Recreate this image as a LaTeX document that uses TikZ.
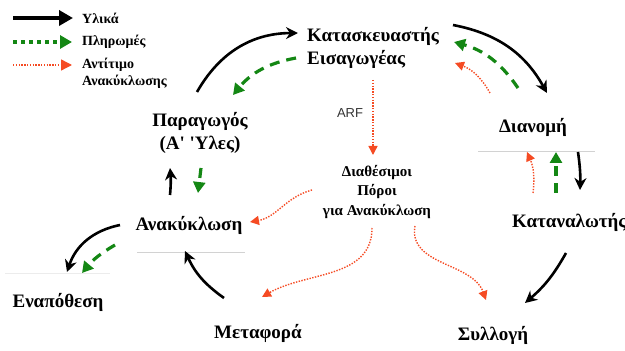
\documentclass[tikz,border=0pt]{standalone}
\usepackage{fontspec}
\setmainfont{Liberation Serif}[Ligatures=TeXOff]
\newfontfamily\arffont{Liberation Sans}
\usetikzlibrary{arrows.meta}
\definecolor{paygreen}{RGB}{20,135,20}
\definecolor{retred}{RGB}{245,75,35}

\begin{document}
\begin{tikzpicture}[x=1pt,y=1pt,
  stage/.style={font=\fontsize{19}{23}\selectfont\bfseries,inner sep=2pt},
  pool/.style={font=\fontsize{15}{19.5}\selectfont\bfseries,align=center,inner sep=2pt},
  legtext/.style={font=\fontsize{14}{16.5}\selectfont\bfseries,align=left,anchor=west,inner sep=2pt},
  mat/.style={line width=2.6pt,-{Stealth[length=12pt,width=12pt]}},
  pay/.style={paygreen,line width=3.2pt,dash pattern=on 10pt off 7pt,
    -{Triangle[length=11pt,width=12pt]}},
  ret/.style={retred,line width=1.4pt,dash pattern=on 1.4pt off 1.4pt,
    -{Triangle[length=9pt,width=9pt]}},
  rule/.style={gray!35,line width=0.8pt}]
\useasboundingbox (0,0) rectangle (625,351);

% legend
\coordinate (kmat) at (13,333);
\coordinate (kpay) at (13,309);
\coordinate (kret) at (13,286);
\node[legtext] (lmat) at (80,333) {Υλικά};
\node[legtext] (lpay) at (80,309) {Πληρωμές};
\node[legtext] (lret) at (80,277.5) {Αντίτιμο\\Ανακύκλωσης};
\draw[line width=4.5pt,-{Triangle[length=14pt,width=15pt]},shorten >=7pt] (kmat) -- (lmat.west);
\draw[paygreen,line width=4pt,dash pattern=on 4pt off 4pt,
  -{Triangle[length=12pt,width=13pt]},shorten >=8pt] (kpay) -- (lpay.west);
\draw[retred,line width=1.4pt,dash pattern=on 1.4pt off 1.4pt,
  -{Triangle[length=11pt,width=11pt]},shorten >=8pt] (kret) -- (lret.west |- kret);

% stages
\node[stage,align=left,anchor=west] (manu) at (305,303) {Κατασκευαστής\\Εισαγωγέας};
\node[stage,align=center] (prod) at (200,218) {Παραγωγός\\(Α' 'Υλες)};
\node[stage] (dist) at (533,224) {Διανομή};
\node[stage,anchor=west] (cons) at (510,129) {Καταναλωτής};
\node[stage] (recy) at (189,126) {Ανακύκλωση};
\node[stage] (disp) at (58,49) {Εναπόθεση};
\node[stage] (trans) at (258,18) {Μεταφορά};
\node[stage] (coll) at (493,16) {Συλλογή};
\node[pool] (res) at (377,159) {Διαθέσιμοι\\Πόροι\\για Ανακύκλωση};
\node[font=\arffont\fontsize{13}{15}\selectfont,text=black!80] (arf) at (350,238) {ARF};

% faint rules
\draw[rule] (478,200) -- (595,200);
\draw[rule] (137,99) -- (245,99);
\draw[gray!15,line width=0.6pt] (5,78) -- (110,78);

% material flow
\draw[mat] ([shift={(-3,41)}]prod.center) to[bend left=30] ([shift={(-7,15)}]manu.west);
\draw[mat] ([shift={(148,23)}]manu.west) to[bend left=25] ([shift={(14,34)}]dist.center);
\draw[mat] ([shift={(45,-25)}]dist.center) to[bend left=5] ([shift={(70,32)}]cons.west);
\draw[mat] ([shift={(56,-31)}]cons.west) to[bend left=10] ([shift={(32,32)}]coll.center);
\draw[mat] ([shift={(-34,35)}]trans.center) to[bend left=15] ([shift={(-4,-26)}]recy.center);
\draw[mat] ([shift={(-69,0)}]recy.center) to[bend right=30] ([shift={(9,30)}]disp.center);
\draw[mat] ([shift={(-19,30)}]recy.center) to[bend right=5] ([shift={(-30,-35)}]prod.center);

% payments
\draw[pay] ([shift={(-9,-10)}]manu.west) to[bend right=20] ([shift={(33,38)}]prod.center);
\draw[pay] ([shift={(-15,39)}]dist.center) to[bend right=20] ([shift={(149,6)}]manu.west);
\draw[pay] ([shift={(46,29)}]cons.west) -- ([shift={(23,-25)}]dist.center);
\draw[pay] ([shift={(-74,-20)}]recy.center) to[bend right=10] ([shift={(24,29)}]disp.center);
\draw[pay] ([shift={(1,-35)}]prod.center) -- ([shift={(9,32)}]recy.center);

% recycling fee
\draw[ret] ([shift={(-43,34)}]dist.center) to[bend right=20] ([shift={(150,-15)}]manu.west);
\draw[ret] ([shift={(68,-32)}]manu.west) -- ([shift={(-4,37)}]res.center);
\draw[ret] ([shift={(23,29)}]cons.west) to[bend right=15] ([shift={(-6,-25)}]dist.center);
\draw[ret] ([shift={(38,-34)}]res.center) to[out=-100,in=110] ([shift={(-7,35)}]coll.center);
\draw[ret] ([shift={(-5,-36)}]res.center) to[out=-90,in=30] ([shift={(4,36)}]trans.center);
\draw[ret] ([shift={(-65,2)}]res.center) to[out=195,in=10] ([shift={(61,3)}]recy.center);
\end{tikzpicture}
\end{document}
